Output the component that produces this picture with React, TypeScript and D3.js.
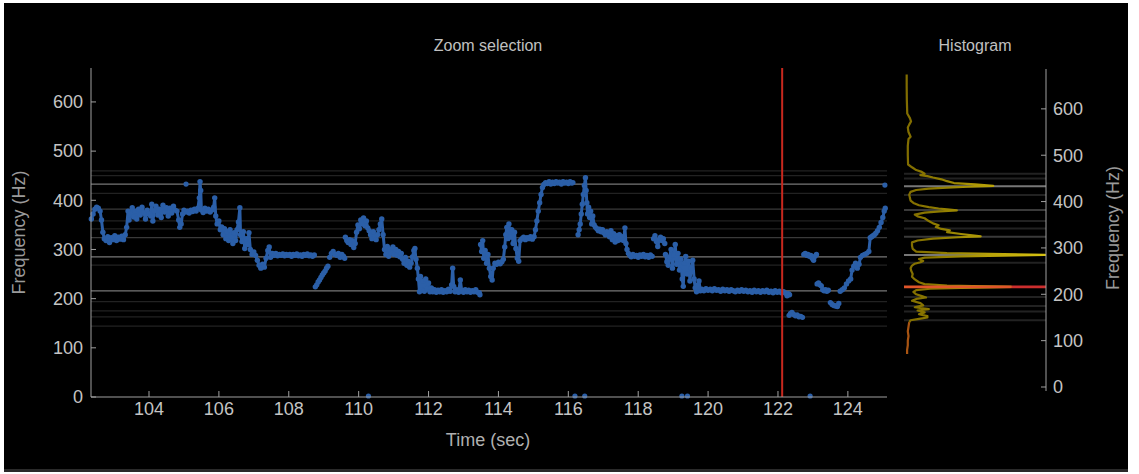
import React from "react";
import * as d3 from "d3";

type P = [number, number];

const xTicks = [104, 106, 108, 110, 112, 114, 116, 118, 120, 122, 124];
const yTicks = [0, 100, 200, 300, 400, 500, 600];

const segA: P[] = [
  [102.35, 362], [102.4, 372], [102.45, 382], [102.5, 386], [102.55, 384], [102.6, 378], [102.64, 360], [102.68, 335],
  [102.72, 322], [102.77, 318], [102.82, 326], [102.87, 314], [102.92, 324], [102.97, 320], [103.02, 328], [103.07, 318],
  [103.12, 325], [103.17, 321], [103.22, 327], [103.27, 320], [103.32, 330], [103.36, 345], [103.4, 378], [103.43, 360],
  [103.47, 372], [103.52, 385], [103.56, 366], [103.6, 378], [103.65, 362], [103.7, 382], [103.75, 370], [103.8, 386],
  [103.85, 375], [103.9, 362], [103.95, 380], [104.0, 372], [104.05, 368], [104.08, 392], [104.11, 358], [104.15, 378],
  [104.2, 388], [104.25, 370], [104.3, 382], [104.35, 365], [104.4, 390], [104.45, 376], [104.5, 385], [104.55, 368],
  [104.6, 384], [104.65, 374], [104.7, 388], [104.75, 380], [104.8, 378], [104.85, 360], [104.88, 345], [104.92, 352],
  [104.96, 372], [105.0, 380], [105.05, 376], [105.1, 378], [105.15, 374], [105.2, 380], [105.25, 377], [105.3, 382],
  [105.35, 378], [105.4, 384], [105.44, 405], [105.46, 438], [105.48, 420], [105.5, 380], [105.55, 375], [105.6, 384],
  [105.65, 378], [105.7, 382], [105.75, 376], [105.8, 380], [105.85, 386], [105.88, 405], [105.91, 368], [105.95, 352],
  [106.0, 358], [106.04, 340], [106.08, 346], [106.12, 330], [106.16, 342], [106.2, 322], [106.24, 336], [106.28, 318],
  [106.32, 340], [106.36, 326], [106.4, 312], [106.44, 334], [106.48, 318], [106.52, 340], [106.56, 356], [106.6, 385],
  [106.62, 330], [106.66, 316], [106.7, 336], [106.74, 302], [106.78, 322], [106.82, 310], [106.86, 334], [106.9, 300],
  [106.95, 290], [107.0, 295], [107.05, 288], [107.1, 278], [107.15, 268], [107.2, 262], [107.25, 270], [107.3, 264],
  [107.35, 282], [107.4, 298], [107.44, 305], [107.48, 284], [107.53, 292], [107.58, 288], [107.63, 292], [107.68, 287],
  [107.73, 290], [107.78, 288], [107.83, 291], [107.88, 287], [107.93, 290], [107.98, 288], [108.03, 290], [108.08, 286],
  [108.13, 290], [108.18, 288], [108.23, 291], [108.28, 287], [108.33, 289], [108.38, 286], [108.43, 290], [108.48, 288],
  [108.53, 291], [108.58, 287], [108.63, 289], [108.68, 286], [108.73, 289],
];

const segB: P[] = [
  [108.76, 224], [108.8, 228], [108.84, 234], [108.88, 238], [108.92, 243], [108.96, 248], [109.0, 252], [109.04, 256],
  [109.08, 262], [109.12, 266],
];

const segC: P[] = [
  [109.17, 284], [109.22, 292], [109.27, 296], [109.32, 290], [109.37, 288], [109.42, 292], [109.47, 284], [109.52, 290],
  [109.57, 286], [109.6, 282],
];

const segD: P[] = [
  [109.62, 325], [109.66, 318], [109.7, 314], [109.74, 320], [109.78, 310], [109.82, 318], [109.86, 304], [109.9, 312],
  [109.94, 335], [109.98, 350], [110.02, 342], [110.06, 360], [110.1, 352], [110.14, 364], [110.18, 348], [110.22, 358],
  [110.26, 344], [110.3, 338], [110.34, 330], [110.38, 322], [110.42, 336], [110.46, 326], [110.5, 320], [110.54, 330],
  [110.58, 340], [110.62, 352], [110.66, 362], [110.7, 330], [110.74, 300], [110.78, 290], [110.82, 306], [110.86, 286],
  [110.9, 300], [110.94, 292], [110.98, 305], [111.02, 290], [111.06, 300], [111.1, 288], [111.14, 296], [111.18, 285],
  [111.22, 292], [111.26, 280], [111.3, 272], [111.34, 284], [111.38, 268], [111.42, 276], [111.46, 264], [111.5, 272],
  [111.54, 285], [111.58, 298], [111.61, 302], [111.64, 280], [111.68, 262], [111.71, 240], [111.74, 214], [111.77, 245],
  [111.8, 218], [111.84, 236], [111.88, 215], [111.92, 240], [111.96, 220], [112.0, 232], [112.04, 214], [112.08, 222],
  [112.12, 214], [112.17, 218], [112.22, 213], [112.27, 217], [112.32, 214], [112.37, 218], [112.42, 213], [112.47, 216],
  [112.52, 214], [112.57, 219], [112.62, 215], [112.66, 228], [112.69, 262], [112.72, 225], [112.76, 214], [112.81, 218],
  [112.86, 213], [112.91, 238], [112.95, 216], [113.0, 213], [113.05, 218], [113.1, 214], [113.15, 217], [113.2, 213],
  [113.25, 216], [113.3, 214], [113.35, 218], [113.4, 213], [113.45, 212], [113.47, 208],
];

const segE: P[] = [
  [113.49, 310], [113.52, 296], [113.55, 318], [113.58, 282], [113.62, 298], [113.66, 272], [113.7, 290], [113.74, 262],
  [113.78, 245], [113.82, 238], [113.85, 262], [113.9, 272], [113.95, 270], [114.0, 274], [114.05, 271], [114.1, 275],
  [114.14, 280], [114.18, 305], [114.21, 330], [114.24, 345], [114.27, 322], [114.3, 352], [114.34, 325], [114.38, 340],
  [114.42, 312], [114.46, 335], [114.5, 302], [114.54, 282], [114.58, 276], [114.62, 318], [114.67, 322], [114.72, 325],
  [114.77, 320], [114.82, 324], [114.87, 322], [114.92, 326], [114.97, 321], [115.02, 326], [115.06, 340], [115.1, 358],
  [115.14, 378], [115.18, 395], [115.22, 412], [115.26, 426], [115.3, 432], [115.35, 436], [115.4, 434], [115.45, 438],
  [115.5, 433], [115.55, 437], [115.6, 434], [115.65, 438], [115.7, 435], [115.75, 437], [115.8, 433], [115.85, 438],
  [115.9, 435], [115.95, 437], [116.0, 434], [116.05, 438], [116.1, 435], [116.13, 436],
];

const segF: P[] = [
  [116.28, 330], [116.31, 340], [116.34, 352], [116.37, 372], [116.4, 392], [116.43, 412], [116.46, 430], [116.49, 446],
  [116.51, 420], [116.53, 395], [116.55, 372], [116.58, 386], [116.61, 365], [116.64, 378], [116.67, 352], [116.7, 368],
  [116.74, 350], [116.78, 345], [116.82, 342], [116.86, 338], [116.9, 341], [116.94, 336], [116.98, 340], [117.02, 334],
  [117.06, 330], [117.1, 336], [117.14, 330], [117.18, 326], [117.22, 338], [117.26, 320], [117.3, 332], [117.34, 315],
  [117.38, 328], [117.42, 318], [117.46, 330], [117.5, 320], [117.54, 326], [117.58, 318], [117.62, 344], [117.65, 312],
  [117.68, 300], [117.72, 292], [117.76, 288], [117.8, 285], [117.85, 290], [117.9, 286], [117.95, 288], [118.0, 284],
  [118.05, 289], [118.1, 286], [118.15, 290], [118.2, 285], [118.25, 288], [118.3, 284], [118.35, 289], [118.4, 286],
];

const segG: P[] = [
  [118.44, 322], [118.48, 328], [118.52, 316], [118.56, 306], [118.6, 320], [118.64, 325], [118.68, 318], [118.72, 322],
  [118.76, 312],
];

const segH: P[] = [
  [118.78, 290], [118.82, 275], [118.86, 268], [118.9, 285], [118.94, 300], [118.98, 262], [119.02, 288], [119.06, 310],
  [119.1, 270], [119.14, 292], [119.18, 258], [119.22, 280], [119.26, 240], [119.29, 225], [119.32, 272], [119.36, 286],
  [119.4, 250], [119.44, 276], [119.48, 236], [119.52, 262], [119.56, 278], [119.6, 240], [119.63, 222], [119.67, 214],
  [119.71, 228], [119.74, 236], [119.78, 216], [119.82, 219], [119.88, 216], [119.94, 220], [120.0, 217], [120.06, 219],
  [120.12, 216], [120.18, 220], [120.24, 217], [120.3, 218], [120.36, 215], [120.42, 219], [120.48, 216], [120.54, 218],
  [120.6, 215], [120.66, 218], [120.72, 216], [120.78, 214], [120.84, 217], [120.9, 215], [120.96, 218], [121.02, 215],
  [121.08, 217], [121.14, 214], [121.2, 216], [121.26, 213], [121.32, 217], [121.38, 214], [121.44, 216], [121.5, 213],
  [121.56, 216], [121.62, 214], [121.68, 217], [121.74, 213], [121.8, 215], [121.86, 212], [121.92, 216], [121.98, 213],
  [122.04, 215], [122.1, 212], [122.16, 214], [122.22, 211], [122.26, 206], [122.3, 210], [122.33, 208],
];

const segI: P[] = [
  [122.32, 166], [122.36, 170], [122.4, 172], [122.45, 168], [122.5, 165], [122.55, 167], [122.6, 163], [122.65, 164],
  [122.7, 162],
];

const segJ: P[] = [
  [122.74, 290], [122.78, 292], [122.82, 288], [122.86, 290], [122.9, 286], [122.94, 288], [122.98, 282], [123.02, 278],
  [123.06, 286], [123.1, 290],
];

const segK: P[] = [
  [123.12, 230], [123.16, 232], [123.2, 228], [123.24, 226], [123.28, 218], [123.32, 216], [123.36, 218], [123.4, 215],
  [123.44, 217],
];

const segL: P[] = [
  [123.5, 192], [123.55, 188], [123.6, 186], [123.65, 185], [123.7, 184], [123.74, 190],
];

const segM: P[] = [
  [123.78, 215], [123.84, 218], [123.9, 222], [123.96, 230], [124.02, 236], [124.08, 240], [124.12, 258], [124.17, 266],
  [124.22, 272], [124.27, 262], [124.32, 270], [124.36, 284], [124.42, 288], [124.48, 290], [124.54, 292], [124.6, 296],
  [124.64, 324], [124.68, 326], [124.72, 328], [124.76, 330], [124.8, 333], [124.85, 338], [124.9, 345], [124.95, 355],
  [125.0, 365], [125.04, 378], [125.07, 384],
];

const pitchSegments: P[][] = [segA, segB, segC, segD, segE, segF, segG, segH, segI, segJ, segK, segL, segM];
const loneDots: P[] = [[105.06, 433], [125.06, 431]];
const zeroDots: P[] = [[110.28, 2], [116.19, 2], [116.47, 2], [119.25, 2], [119.41, 2], [122.92, 2]];

const cursorTime = 122.12;
const selectedFreq = 216;

const gridFreqs = [460, 450, 433, 414, 382, 358, 342, 324, 285, 268, 216, 194, 175, 163, 144];
const gridLevels = [1, 1, 3, 1, 2, 1, 1, 2, 3, 1, 3, 1, 1, 1, 1];

const histFreq = [
  674, 650, 620, 600, 590, 580, 573, 566, 560, 550, 540, 535, 520, 500, 480, 474, 468, 464, 460, 457, 455, 452, 448, 444,
  440, 437, 434, 432, 430, 428, 425, 421, 415, 408, 402, 397, 392, 388, 385, 383, 381, 379, 376, 372, 368, 364, 358, 353,
  349, 345, 341, 338, 334, 330, 327, 325, 323, 320, 316, 312, 305, 298, 292, 289, 287, 285, 284, 282, 279, 276, 272, 269,
  266, 262, 256, 250, 244, 238, 232, 226, 222, 219, 216, 214, 212, 209, 205, 200, 196, 193, 190, 186, 181, 176, 172, 168,
  165, 161, 157, 153, 150, 147, 144, 140, 130, 120, 110, 100, 90, 80, 71,
];
const histCount = [
  1.2, 1.2, 1.3, 1.5, 1.6, 3.5, 4.3, 3, 2, 2.5, 4, 2.5, 2, 2, 2.2, 5, 8, 12, 14, 11, 16, 20, 26, 30,
  35, 50, 63, 45, 30, 17, 8, 4, 3, 3.5, 4, 6, 10, 17, 24, 30, 37, 25, 14, 7, 9, 14, 17, 20,
  24, 22, 26, 32, 30, 40, 48, 54, 38, 20, 9, 5, 5, 5.5, 8, 30, 60, 100, 80, 40, 14, 10, 13, 11,
  7, 5, 4, 4.5, 5.5, 5, 7, 10, 14, 30, 76, 40, 18, 8, 6, 8, 12, 15, 8, 5, 11, 13, 7, 17,
  9, 14, 10, 16, 16, 10, 4, 3, 2.5, 2, 2.5, 2, 2, 1.5, 1.5,
];

const FONT = "'Liberation Sans', Arial, Helvetica, sans-serif";
const BLUE = "#2b5fa8";

export default function App() {
  const x = d3.scaleLinear().domain([102.34, 125.12]).range([91, 887]);
  const y = d3.scaleLinear().domain([0, 669]).range([397, 68]);
  const hx = d3.scaleLinear().domain([0, 100]).range([905, 1045]);
  const hy = d3.scaleLinear().domain([0, 686]).range([387, 69]);

  const track = d3.line<P>().x((d) => x(d[0])).y((d) => y(d[1]));
  const histPts: P[] = histFreq.map((f, i) => [f, histCount[i]]);
  const hline = d3.line<P>().x((d) => hx(d[1])).y((d) => hy(d[0]));
  const upper = histPts.filter((d) => d[0] >= 140);
  const lower = histPts.filter((d) => d[0] <= 140);

  const lineColor = (lvl: number) => (lvl === 3 ? "#777777" : lvl === 2 ? "#3a3a3a" : "#222222");
  const selIdx = histFreq.indexOf(selectedFreq);
  const selCount = histCount[selIdx];

  return (
    <svg width={1139} height={474} style={{ position: "absolute", left: 0, top: 0, fontFamily: FONT }}>
      <defs>
        <linearGradient id="histGrad" gradientUnits="userSpaceOnUse" x1={905} x2={1045} y1={0} y2={0}>
          <stop offset="0" stopColor="#806c00" />
          <stop offset="0.25" stopColor="#8f7c00" />
          <stop offset="0.6" stopColor="#b8a208" />
          <stop offset="1" stopColor="#d6c212" />
        </linearGradient>
      </defs>
      <rect x={0} y={0} width={1139} height={474} fill="#ffffff" />
      <rect x={4} y={3} width={1124} height={467} fill="#000000" />
      <rect x={4} y={469} width={1124} height={3} fill="#2a2a2a" />

      {gridFreqs.map((f, i) => (
        <line key={"g" + i} x1={91} x2={887} y1={y(f)} y2={y(f)} stroke={lineColor(gridLevels[i])} strokeWidth={1.3} />
      ))}

      {pitchSegments.map((seg, i) => (
        <path key={"s" + i} d={track(seg) || ""} fill="none" stroke={BLUE} strokeWidth={3} strokeLinejoin="round" />
      ))}
      {pitchSegments.map((seg, i) =>
        seg.map((d, j) => <circle key={"c" + i + "_" + j} cx={x(d[0])} cy={y(d[1])} r={2.7} fill={BLUE} />)
      )}
      {loneDots.concat(zeroDots).map((d, i) => (
        <circle key={"l" + i} cx={x(d[0])} cy={y(d[1])} r={2.6} fill={BLUE} />
      ))}

      <line x1={x(cursorTime)} x2={x(cursorTime)} y1={68} y2={397} stroke="#c8281e" strokeWidth={2} />

      <line x1={91} x2={91} y1={68} y2={397} stroke="#a0a0a0" strokeWidth={1} />
      {yTicks.map((t) => (
        <g key={"yt" + t}>
          <line x1={91} x2={96} y1={y(t)} y2={y(t)} stroke="#a0a0a0" />
          <text x={83} y={y(t)} dy="0.35em" textAnchor="end" fill="#c4c4c4" fontSize={18}>
            {t}
          </text>
        </g>
      ))}
      <text transform={`translate(25,${(68 + 397) / 2}) rotate(-90)`} textAnchor="middle" fill="#9a9a9a" fontSize={18}>
        Frequency (Hz)
      </text>

      <line x1={91} x2={887} y1={397} y2={397} stroke="#a0a0a0" strokeWidth={1} />
      {xTicks.map((t) => (
        <g key={"xt" + t}>
          <line x1={x(t)} x2={x(t)} y1={397} y2={391} stroke="#a0a0a0" />
          <text x={x(t)} y={402} dy="0.71em" textAnchor="middle" fill="#c4c4c4" fontSize={18}>
            {t}
          </text>
        </g>
      ))}
      <text x={488} y={446} textAnchor="middle" fill="#b0b0b0" fontSize={18}>
        Time (sec)
      </text>
      <text x={488} y={51} textAnchor="middle" fill="#c0c0c0" fontSize={16}>
        Zoom selection
      </text>

      {gridFreqs.map((f, i) =>
        f === selectedFreq ? null : (
          <line key={"hg" + i} x1={904} x2={1046} y1={hy(f)} y2={hy(f)} stroke={lineColor(gridLevels[i])} strokeWidth={2} />
        )
      )}
      <path d={hline(upper) || ""} fill="none" stroke="url(#histGrad)" strokeWidth={2.2} strokeLinejoin="round" />
      <path d={hline(lower) || ""} fill="none" stroke="#a85412" strokeWidth={2.2} strokeLinejoin="round" />
      <line x1={904} x2={hx(selCount)} y1={hy(selectedFreq)} y2={hy(selectedFreq)} stroke="#e0552a" strokeWidth={2.6} />
      <line x1={hx(selCount)} x2={1046} y1={hy(selectedFreq)} y2={hy(selectedFreq)} stroke="#cc2e2e" strokeWidth={2.6} />

      <line x1={1046} x2={1046} y1={69} y2={391} stroke="#a0a0a0" strokeWidth={1} />
      {yTicks.map((t) => (
        <g key={"ht" + t}>
          <line x1={1041} x2={1046} y1={hy(t)} y2={hy(t)} stroke="#a0a0a0" />
          <text x={1053} y={hy(t)} dy="0.35em" textAnchor="start" fill="#c4c4c4" fontSize={18}>
            {t}
          </text>
        </g>
      ))}
      <text transform={`translate(1119,${(69 + 387) / 2}) rotate(-90)`} textAnchor="middle" fill="#9a9a9a" fontSize={18}>
        Frequency (Hz)
      </text>
      <text x={975} y={51} textAnchor="middle" fill="#c0c0c0" fontSize={16}>
        Histogram
      </text>
    </svg>
  );
}
